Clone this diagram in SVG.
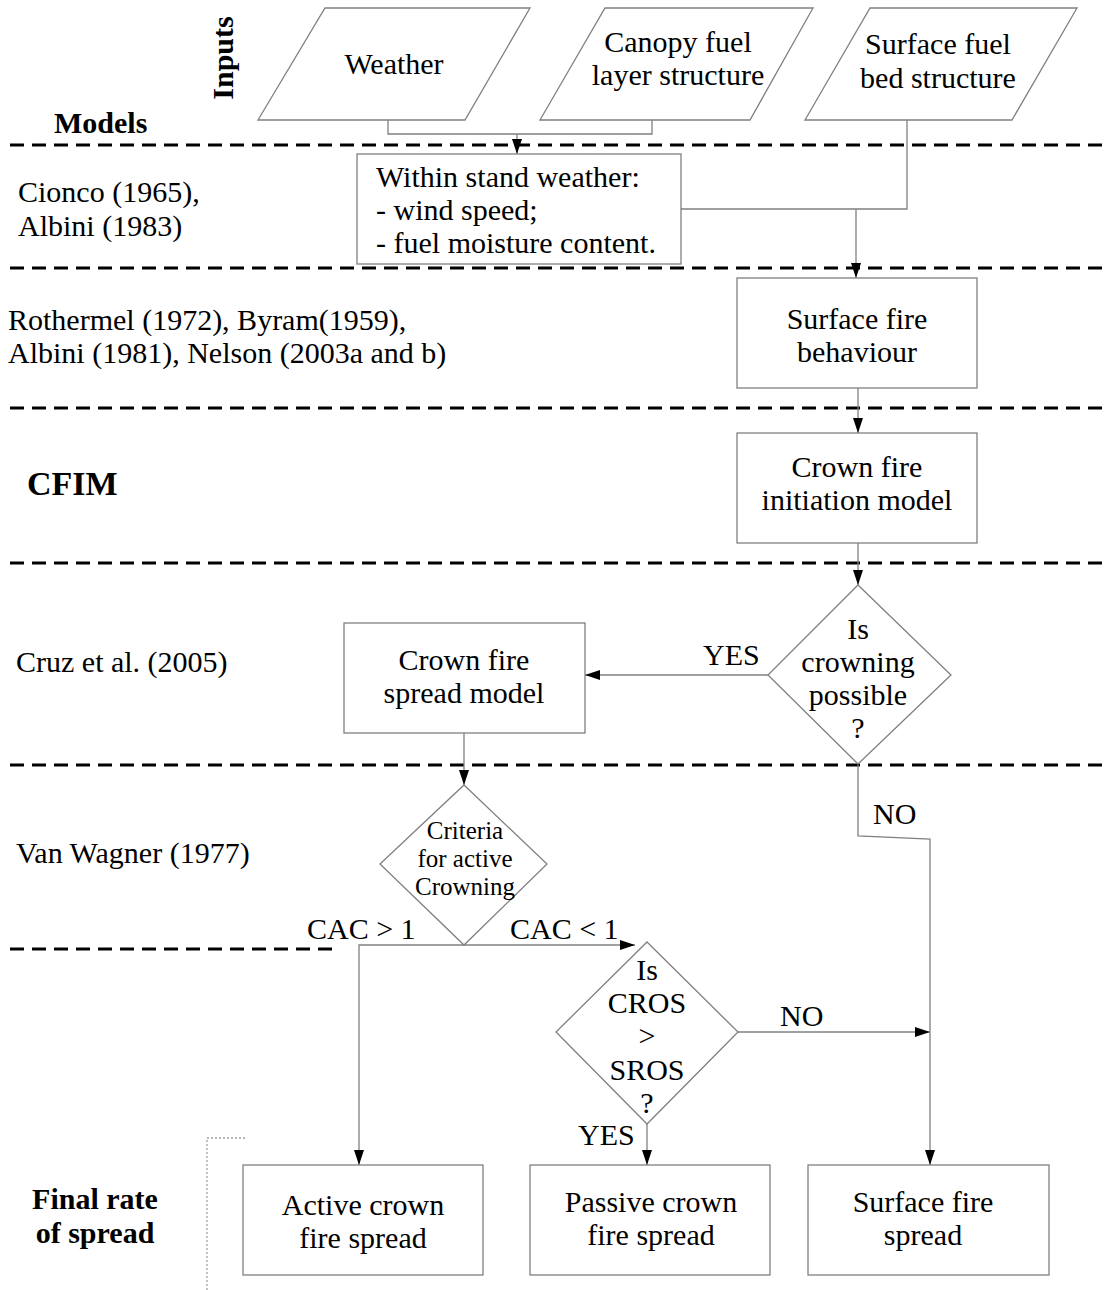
<svg xmlns="http://www.w3.org/2000/svg" width="1109" height="1290" viewBox="0 0 1109 1290">
<style>
text{font-family:"Liberation Serif","Times New Roman",serif;font-size:30px;fill:#000}
.c{text-anchor:middle}
.b{font-weight:bold}
.s{font-size:25px}
.node{fill:#fff;stroke:#808080;stroke-width:1.3}
.conn{fill:none;stroke:#808080;stroke-width:1.3}
.sep{fill:none;stroke:#000;stroke-width:3;stroke-dasharray:14 8}
</style>
<defs>
<marker id="ah" markerUnits="userSpaceOnUse" markerWidth="15" markerHeight="12" viewBox="0 0 15 12" refX="15" refY="6" orient="auto">
<path d="M0,1 L15,6 L0,11 z" fill="#000"/>
</marker>
</defs>
<rect width="1109" height="1290" fill="#fff"/>

<g id="separators">
<line class="sep" x1="10" y1="145" x2="1109" y2="145"/>
<line class="sep" x1="10" y1="268" x2="1109" y2="268"/>
<line class="sep" x1="10" y1="408" x2="1109" y2="408"/>
<line class="sep" x1="10" y1="563" x2="1109" y2="563"/>
<line class="sep" x1="10" y1="765" x2="1109" y2="765"/>
<line class="sep" x1="10" y1="949" x2="333" y2="949"/>
<path d="M245,1138 H207 V1290" fill="none" stroke="#a0a0a0" stroke-width="1.3" stroke-dasharray="2 2"/>
</g>

<g id="labels">
<text class="b c" transform="translate(233,58) rotate(-90)">Inputs</text>
<text class="b" x="54" y="133">Models</text>
<text x="18" y="202">Cionco (1965),</text>
<text x="18" y="236">Albini (1983)</text>
<text x="8" y="330">Rothermel (1972), Byram(1959),</text>
<text x="8" y="363">Albini (1981), Nelson (2003a and b)</text>
<text class="b" x="27" y="495" style="font-size:34px">CFIM</text>
<text x="16" y="672">Cruz et al. (2005)</text>
<text x="16" y="863">Van Wagner (1977)</text>
<text class="b c" x="95" y="1209">Final rate</text>
<text class="b c" x="95" y="1243">of spread</text>
</g>

<g id="connectors">
<path class="conn" d="M388,120 V134 H652 V120"/>
<path class="conn" d="M517,134 V154" marker-end="url(#ah)"/>
<path class="conn" d="M907,120 V209 H681"/>
<path class="conn" d="M856,209 V278" marker-end="url(#ah)"/>
<path class="conn" d="M858,388 V433" marker-end="url(#ah)"/>
<path class="conn" d="M858,543 V585" marker-end="url(#ah)"/>
<path class="conn" d="M768,675 H585" marker-end="url(#ah)"/>
<path class="conn" d="M464,733 V785" marker-end="url(#ah)"/>
<path class="conn" d="M464,945 H359 V1165" marker-end="url(#ah)"/>
<path class="conn" d="M464,945 H635" marker-end="url(#ah)"/>
<path class="conn" d="M738,1032 H930" marker-end="url(#ah)"/>
<path class="conn" d="M858,765 V836 L930,839 V1165" marker-end="url(#ah)"/>
<path class="conn" d="M647,1124 V1165" marker-end="url(#ah)"/>
<text x="703" y="665">YES</text>
<text x="873" y="824">NO</text>
<text x="307" y="939">CAC &gt; 1</text>
<text x="510" y="939">CAC &lt; 1</text>
<text x="780" y="1026">NO</text>
<text x="578" y="1145">YES</text>
</g>

<g id="weather">
<polygon class="node" points="258,120 325,8 530,8 465,120"/>
<text class="c" x="394" y="74">Weather</text>
</g>
<g id="canopy">
<polygon class="node" points="540,120 605,8 813,8 750,120"/>
<text class="c" x="678" y="52">Canopy fuel</text>
<text class="c" x="678" y="85">layer structure</text>
</g>
<g id="surfacefuel">
<polygon class="node" points="805,120 870,8 1077,8 1012,120"/>
<text class="c" x="938" y="54">Surface fuel</text>
<text class="c" x="938" y="88">bed structure</text>
</g>
<g id="withinstand">
<rect class="node" x="357" y="154" width="324" height="110"/>
<text x="376" y="187">Within stand weather:</text>
<text x="376" y="220">- wind speed;</text>
<text x="376" y="253">- fuel moisture content.</text>
</g>
<g id="surfacebehaviour">
<rect class="node" x="737" y="278" width="240" height="110"/>
<text class="c" x="857" y="329">Surface fire</text>
<text class="c" x="857" y="362">behaviour</text>
</g>
<g id="cfim">
<rect class="node" x="737" y="433" width="240" height="110"/>
<text class="c" x="857" y="477">Crown fire</text>
<text class="c" x="857" y="510">initiation model</text>
</g>
<g id="crowningpossible">
<polygon class="node" points="858,585 951,675 858,764 768,675"/>
<text class="c" x="858" y="639">Is</text>
<text class="c" x="858" y="672">crowning</text>
<text class="c" x="858" y="705">possible</text>
<text class="c" x="858" y="738">?</text>
</g>
<g id="crownspread">
<rect class="node" x="344" y="623" width="241" height="110"/>
<text class="c" x="464" y="670">Crown fire</text>
<text class="c" x="464" y="703">spread model</text>
</g>
<g id="criteria">
<polygon class="node" points="464,785 547,864 464,945 380,864"/>
<text class="c s" x="465" y="839">Criteria</text>
<text class="c s" x="465" y="867">for active</text>
<text class="c s" x="465" y="895">Crowning</text>
</g>
<g id="cros">
<polygon class="node" points="647,942 738,1032 647,1124 556,1032"/>
<text class="c" x="647" y="980">Is</text>
<text class="c" x="647" y="1013">CROS</text>
<text class="c" x="647" y="1046">&gt;</text>
<text class="c" x="647" y="1080">SROS</text>
<text class="c" x="647" y="1113">?</text>
</g>
<g id="activecrown">
<rect class="node" x="243" y="1165" width="240" height="110"/>
<text class="c" x="363" y="1215">Active crown</text>
<text class="c" x="363" y="1248">fire spread</text>
</g>
<g id="passivecrown">
<rect class="node" x="530" y="1165" width="240" height="110"/>
<text class="c" x="651" y="1212">Passive crown</text>
<text class="c" x="651" y="1245">fire spread</text>
</g>
<g id="surfacespread">
<rect class="node" x="808" y="1165" width="241" height="110"/>
<text class="c" x="923" y="1212">Surface fire</text>
<text class="c" x="923" y="1245">spread</text>
</g>
</svg>
